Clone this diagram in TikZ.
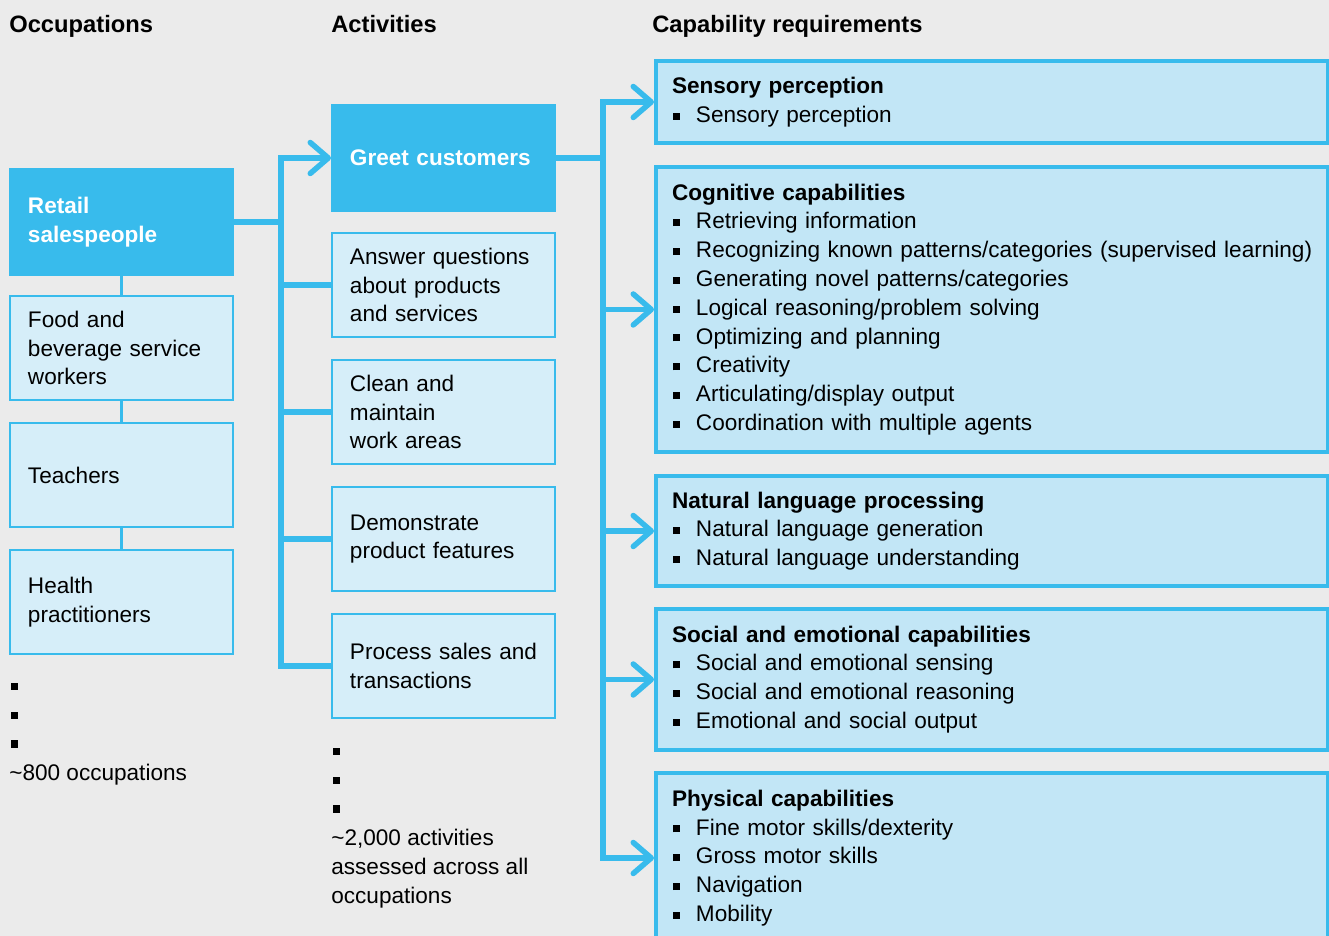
\documentclass[tikz,border=0pt]{standalone}
\usepackage{fontspec}
\setmainfont{Liberation Sans}
\usetikzlibrary{arrows.meta}

\definecolor{mckblue}{RGB}{56,187,236}
\definecolor{paleblue}{RGB}{214,238,249}
\definecolor{capblue}{RGB}{194,230,246}
\definecolor{bggray}{RGB}{235,235,235}

\newcommand{\sqbullet}{\rule[1.5pt]{4pt}{4pt}}
\newcommand{\capitem}[1]{\mbox{\makebox[0.48cm][l]{\hspace{0.4pt}\sqbullet}#1}}

\tikzset{
  basefont/.style={font=\fontsize{12.85pt}{16.4pt}\selectfont},
  hubbox/.style={basefont, fill=mckblue, draw=mckblue, line width=0.04cm, text=white,
    font=\fontsize{12.85pt}{16.4pt}\selectfont\bfseries, text width=3.74cm, inner xsep=0.36cm,
    align=left, minimum height=2.12cm, anchor=north west},
  jobbox/.style={basefont, fill=paleblue, draw=mckblue, line width=0.04cm,
    text width=3.74cm, inner xsep=0.36cm, align=left, minimum height=2.08cm, anchor=north west},
  capbox/.style={basefont, fill=capblue, draw=mckblue, line width=0.08cm,
    text width=12.8cm, inner xsep=0.32cm, align=left, anchor=north west},
  heading/.style={font=\fontsize{13.5pt}{16.4pt}\selectfont\bfseries, anchor=base west, inner sep=0},
  conn/.style={draw=mckblue, line width=0.11cm},
  link/.style={draw=mckblue, line width=0.07cm},
  tip/.style={-{Straight Barb[length=0.36cm,width=0.62cm,round]}}
}

\begin{document}
\begin{tikzpicture}[x=0.02cm, y=-0.02cm]
  \useasboundingbox (0,0) rectangle (1329,936);
  \fill[bggray] (0,0) rectangle (1329,936);

  % column headings
  \node[heading] (hOcc) at (9,33) {Occupations};
  \node[heading] (hAct) at (331,33) {Activities};
  \node[heading] (hCap) at (652,33) {Capability requirements};

  % occupations
  \node[hubbox] (retail) at (9,168) {Retail\\salespeople};
  \node[jobbox] (food) at (9,295) {Food and\\beverage service\\workers};
  \node[jobbox] (teach) at (9,422) {Teachers};
  \node[jobbox] (health) at (9,549) {Health\\practitioners};
  \node[basefont, anchor=north west, inner sep=0, align=left] (occmore) at (9,672)
    {\hspace{1pt}\sqbullet\strut\\\hspace{1pt}\sqbullet\strut\\\hspace{1pt}\sqbullet\strut\\[1pt]\textasciitilde800 occupations\strut};

  % activities
  \node[hubbox] (greet) at (331,104) {Greet customers};
  \node[jobbox] (answer) at (331,232) {Answer questions\\about products\\and services};
  \node[jobbox] (clean) at (331,359) {Clean and\\maintain\\work areas};
  \node[jobbox] (demo) at (331,486) {Demonstrate\\product features};
  \node[jobbox] (process) at (331,613) {\mbox{Process sales and}\\transactions};
  \node[basefont, anchor=north west, inner sep=0, align=left] (actmore) at (331,737)
    {\hspace{1pt}\sqbullet\strut\\\hspace{1pt}\sqbullet\strut\\\hspace{1pt}\sqbullet\strut\\[1pt]\textasciitilde2,000 activities\\assessed across all\\occupations\strut};

  % capability requirements
  \node[capbox, minimum height=1.64cm] (sensory) at (654,59)
    {\textbf{Sensory perception}\\
     \capitem{Sensory perception}};
  \node[capbox, minimum height=5.7cm] (cognitive) at (654,165)
    {\textbf{Cognitive capabilities}\\
     \capitem{Retrieving information}\\
     \capitem{Recognizing known patterns/categories (supervised learning)}\\
     \capitem{Generating novel patterns/categories}\\
     \capitem{Logical reasoning/problem solving}\\
     \capitem{Optimizing and planning}\\
     \capitem{Creativity}\\
     \capitem{Articulating/display output}\\
     \capitem{Coordination with multiple agents}};
  \node[capbox, minimum height=2.2cm] (nlp) at (654,474)
    {\textbf{Natural language processing}\\
     \capitem{Natural language generation}\\
     \capitem{Natural language understanding}};
  \node[capbox, minimum height=2.82cm] (social) at (654,607)
    {\textbf{Social and emotional capabilities}\\
     \capitem{Social and emotional sensing}\\
     \capitem{Social and emotional reasoning}\\
     \capitem{Emotional and social output}};
  \node[capbox, minimum height=3.4cm] (physical) at (654,771)
    {\textbf{Physical capabilities}\\
     \capitem{Fine motor skills/dexterity}\\
     \capitem{Gross motor skills}\\
     \capitem{Navigation}\\
     \capitem{Mobility}};

  % links between occupations
  \draw[link] (retail.south) -- (food.north);
  \draw[link] (food.south) -- (teach.north);
  \draw[link] (teach.south) -- (health.north);

  % occupation -> activities
  \coordinate (trunkA) at (281,0);
  \draw[conn] (retail.east) -- (trunkA |- retail.east);
  \draw[conn, tip] (trunkA |- process.west) |- (greet.west);
  \draw[conn] (trunkA |- greet.west) |- (process.west);
  \foreach \n in {answer, clean, demo}
    \draw[conn] (trunkA |- \n.west) -- (\n.west);

  % activity -> capabilities
  \coordinate (trunkB) at (603,0);
  \draw[conn] (greet.east) -- (trunkB |- greet.east);
  \draw[conn, tip] (trunkB |- physical.west) |- (sensory.west);
  \draw[conn, tip] (trunkB |- sensory.west) |- (physical.west);
  \foreach \n in {cognitive, nlp, social}
    \draw[conn, tip] (trunkB |- \n.west) -- (\n.west);
\end{tikzpicture}
\end{document}
